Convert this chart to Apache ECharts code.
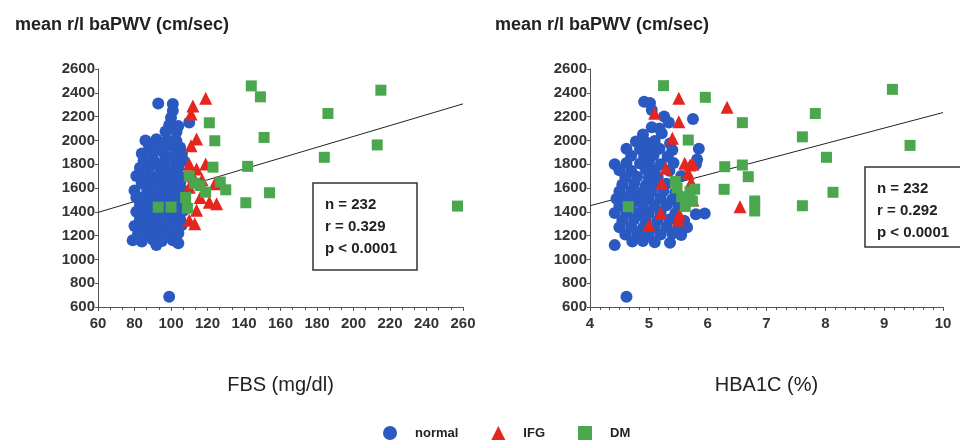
<!DOCTYPE html>
<html>
<head>
<meta charset="utf-8">
<script src="https://cdn.jsdelivr.net/npm/echarts@6.0.0/dist/echarts.min.js"></script>
<style>
  html, body { margin: 0; padding: 0; background: #fff; }
  #main { width: 960px; height: 440px; }
</style>
</head>
<body>
<div id="main"></div>
<script>
// FBS (mg/dl) vs mean baPWV
const fbsNormal = [
  [93,2310],[101,2305],[101,2250],[100,2190],[110,2150],[99,2130],[104,2120],[97,2075],[103,2070],
  [86,2000],[92,2010],[98,2005],[103,1995],
  [88,1950],[94,1945],[100,1955],[105,1940],
  [84,1890],[90,1885],[96,1895],[102,1880],[106,1890],
  [85,1830],[91,1825],[97,1835],[103,1820],[107,1830],
  [83,1770],[88,1765],[94,1775],[99,1760],[104,1770],
  [81,1700],[86,1705],[92,1695],[97,1710],[102,1700],[106,1690],
  [84,1640],[89,1645],[95,1635],[100,1650],[105,1640],
  [80,1580],[87,1585],[93,1575],[98,1590],[103,1580],[107,1570],
  [81,1520],[85,1525],[90,1515],[96,1530],[101,1520],[106,1510],
  [83,1460],[88,1455],[94,1465],[99,1450],[104,1460],
  [81,1400],[86,1395],[91,1405],[97,1390],[102,1400],[107,1410],
  [83,1340],[89,1335],[94,1345],[100,1330],[105,1340],
  [80,1280],[86,1275],[91,1285],[96,1270],[102,1280],[106,1290],
  [82,1220],[88,1215],[93,1225],[99,1210],[104,1220],
  [79,1160],[84,1150],[90,1165],[95,1155],[101,1160],
  [92,1120],[104,1135],[99,686]
];
const fbsIfg = [
  [110,1330],[113,1300],[114,1412],[116,1520],[121,1481],[125,1468],[110,1607],[124,1635],
  [110,1800],[114,1760],[119,1802],[111,1956],[114,2012],[111,2221],[112,2290],[119,2355],
  [117,1670],[112,1700]
];
const fbsDm = [
  [93,1439],[100,1439],[108,1520],[109,1430],[110,1700],[113,1640],[116,1620],[119,1565],
  [121,2148],[123,1775],[124,1997],[127,1650],[130,1585],[141,1476],[142,1782],[144,2458],
  [149,2366],[151,2025],[154,1560],[184,1858],[186,2226],[213,1962],[215,2422],[257,1448]
];
const fbsFit = [[60,1395],[260,2307]];

// HBA1C (%) vs mean baPWV
const hbaNormal = [
  [4.92,2325],[5.02,2315],[5.05,2255],[5.26,2200],[5.75,2180],[5.34,2150],
  [5.05,2110],[5.18,2100],[4.9,2050],[5.22,2060],
  [4.78,1990],[4.95,1985],[5.1,1995],[5.36,1975],
  [4.62,1930],[4.85,1925],[5.0,1935],[5.18,1930],[5.4,1920],[5.85,1930],
  [4.7,1870],[4.92,1865],[5.08,1875],[5.32,1865],[5.82,1840],
  [4.42,1800],[4.62,1810],[4.85,1805],[5.0,1815],[5.2,1800],[5.42,1810],[5.8,1800],
  [4.5,1750],[4.7,1745],[4.95,1755],[5.1,1750],[5.35,1745],
  [4.6,1690],[4.8,1695],[5.0,1685],[5.15,1690],[5.55,1700],
  [4.55,1630],[4.75,1635],[4.95,1625],[5.1,1630],[5.3,1635],
  [4.5,1570],[4.7,1575],[4.88,1565],[5.05,1570],[5.25,1575],[5.45,1565],
  [4.45,1510],[4.62,1515],[4.8,1505],[5.0,1510],[5.2,1515],[5.4,1505],[5.6,1510],
  [4.5,1450],[4.7,1455],[4.9,1445],[5.1,1450],[5.3,1455],[5.5,1445],
  [4.42,1390],[4.62,1395],[4.82,1385],[5.0,1390],[5.2,1395],[5.45,1385],[5.8,1380],[5.95,1385],
  [4.55,1330],[4.75,1335],[4.95,1325],[5.15,1330],[5.35,1335],[5.6,1325],
  [4.5,1270],[4.7,1275],[4.9,1265],[5.1,1270],[5.3,1275],[5.5,1265],[5.65,1270],
  [4.6,1210],[4.8,1215],[5.0,1205],[5.2,1210],[5.4,1215],[5.55,1205],
  [4.72,1150],[4.9,1155],[5.1,1145],[5.36,1140],
  [4.42,1120],[4.62,687]
];
const hbaIfg = [
  [5.0,1289],[5.2,1387],[5.5,1331],[5.52,1380],[5.22,1640],[5.29,1766],[5.40,2018],[5.51,2157],
  [5.10,2228],[5.51,2354],[5.61,1808],[5.70,1793],[5.67,1723],[5.75,1800],[5.72,1650],[5.75,1499],
  [5.68,1540],[6.33,2279],[6.55,1443]
];
const hbaDm = [
  [4.65,1443],[5.25,2460],[5.45,1655],[5.48,1600],[5.56,1527],[5.62,1445],[5.67,2003],[5.70,1569],
  [5.74,1490],[5.78,1590],[5.96,2362],[6.29,1779],[6.28,1589],[6.59,2149],[6.59,1793],[6.69,1695],
  [6.80,1491],[6.80,1407],[7.61,2030],[7.83,2226],[8.02,1858],[8.13,1564],[7.61,1451],[9.14,2429],
  [9.44,1958]
];
const hbaFit = [[4,1451],[10,2234]];

const groupNames = ['normal', 'IFG', 'DM'];
const statsFbs = ['n = 232', 'r = 0.329', 'p < 0.0001'];
const statsHba = ['n = 232', 'r = 0.292', 'p < 0.0001'];

const BLUE = '#2a59c2';
const RED = '#e5261e';
const GREEN = '#4aa74e';
const FONT = '"Liberation Sans", Arial, sans-serif';

const chart = echarts.init(document.getElementById('main'));

function yAxisOpt(idx) {
  return {
    gridIndex: idx,
    type: 'value',
    min: 600, max: 2600, interval: 200,
    axisLine: { show: true, lineStyle: { color: '#555', width: 1 } },
    axisTick: { show: true, length: 3, lineStyle: { color: '#555' } },
    axisLabel: {
      color: '#333', fontSize: 15, fontWeight: 'bold', fontFamily: FONT, margin: 3,
      formatter: function (v) { return String(v); }
    },
    splitLine: { show: false }
  };
}

function xAxisOpt(idx, min, max, interval, name, split) {
  return {
    gridIndex: idx,
    type: 'value',
    min: min, max: max, interval: interval,
    name: name,
    nameLocation: 'middle',
    nameGap: 68,
    nameTextStyle: { color: '#222', fontSize: 20, fontFamily: FONT },
    axisLine: { show: true, lineStyle: { color: '#555', width: 1 } },
    axisTick: { show: true, length: 4, lineStyle: { color: '#555' } },
    minorTick: { show: true, splitNumber: split, length: 3, lineStyle: { color: '#555' } },
    axisLabel: { color: '#333', fontSize: 15, fontWeight: 'bold', fontFamily: FONT, margin: 9 },
    splitLine: { show: false }
  };
}

function scatter(name, data, idx, symbol, size, color) {
  return {
    name: name, type: 'scatter',
    xAxisIndex: idx, yAxisIndex: idx,
    data: data, symbol: symbol, symbolSize: size,
    itemStyle: { color: color, opacity: 1 },
    z: 3
  };
}

function fitLine(data, idx) {
  return {
    type: 'line', data: data,
    xAxisIndex: idx, yAxisIndex: idx,
    symbol: 'none', silent: true,
    lineStyle: { color: '#222', width: 1 },
    z: 1
  };
}

function statsBox(x, y, w, h, lines) {
  return [
    { type: 'rect', shape: { x: x, y: y, width: w, height: h },
      style: { fill: '#fff', stroke: '#333', lineWidth: 1.5 }, z: 10 },
    { type: 'text', x: x + 12, y: y + 11, z: 11,
      style: { text: lines.join('\n'), fill: '#222', font: 'bold 15px ' + FONT, lineHeight: 22 } }
  ];
}

const option = {
  animation: false,
  title: [
    { text: 'mean r/l baPWV (cm/sec)', left: 10, top: 11,
      textStyle: { color: '#222', fontSize: 18, fontWeight: 'bold', fontFamily: FONT } },
    { text: 'mean r/l baPWV (cm/sec)', left: 490, top: 11,
      textStyle: { color: '#222', fontSize: 18, fontWeight: 'bold', fontFamily: FONT } }
  ],
  grid: [
    { left: 98, top: 69, width: 365, height: 238 },
    { left: 590, top: 69, width: 353, height: 238 }
  ],
  xAxis: [
    xAxisOpt(0, 60, 260, 20, 'FBS (mg/dl)', 3),
    xAxisOpt(1, 4, 10, 1, 'HBA1C (%)', 6)
  ],
  yAxis: [yAxisOpt(0), yAxisOpt(1)],
  legend: {
    left: 378, top: 421,
    itemWidth: 14, itemHeight: 14, itemGap: 33,
    data: [
      { name: groupNames[0], icon: 'circle' },
      { name: groupNames[1], icon: 'triangle' },
      { name: groupNames[2], icon: 'rect' }
    ],
    textStyle: { color: '#222', fontSize: 13, fontWeight: 'bold', fontFamily: FONT, padding: [0, 0, 0, 13] }
  },
  series: [
    fitLine(fbsFit, 0),
    scatter(groupNames[0], fbsNormal, 0, 'circle', 12, BLUE),
    scatter(groupNames[1], fbsIfg, 0, 'triangle', 13, RED),
    scatter(groupNames[2], fbsDm, 0, 'rect', 11, GREEN),
    fitLine(hbaFit, 1),
    scatter(groupNames[0], hbaNormal, 1, 'circle', 12, BLUE),
    scatter(groupNames[1], hbaIfg, 1, 'triangle', 13, RED),
    scatter(groupNames[2], hbaDm, 1, 'rect', 11, GREEN)
  ],
  graphic: statsBox(313, 183, 104, 87, statsFbs).concat(statsBox(865, 167, 110, 80, statsHba))
};

chart.setOption(option);
</script>
</body>
</html>
